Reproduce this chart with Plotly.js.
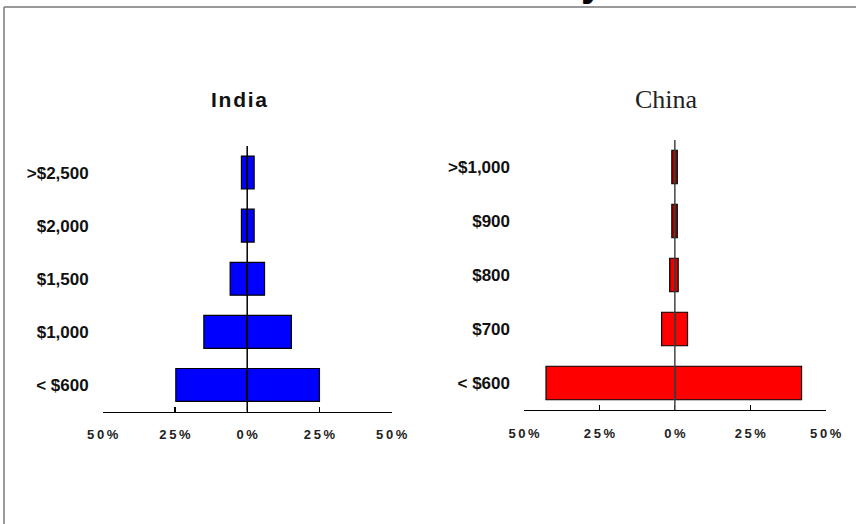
<!DOCTYPE html>
<html>
<head>
<meta charset="utf-8">
<script src="https://cdn.plot.ly/plotly-3.0.1.min.js"></script>
<style>html,body{margin:0;padding:0;background:#fff;}#chart{width:856px;height:524px;}</style>
</head>
<body>
<div id="chart"></div>
<script>
// ---- data ----
var indiaCats  = ['< $600', '$1,000', '$1,500', '$2,000', '>$2,500'];
var indiaLeft  = [24.7, 15.0, 5.9, 2.0, 2.0];
var indiaRight = [25.0, 15.3, 6.0, 2.4, 2.4];

var chinaCats  = ['< $600', '$700', '$800', '$900', '>$1,000'];
var chinaLeft  = [42.7, 4.4, 1.7, 1.0, 1.0];
var chinaRight = [42.0, 4.2, 1.1, 0.8, 0.8];

var xTickVals  = [-50, -25, 0, 25, 50];
var xTickText  = ['5\u20090\u2009%', '2\u20095\u2009%', '0\u2009%', '2\u20095\u2009%', '5\u20090\u2009%'];

var W = 856, H = 524;
function px(x){ return x / W; }
function py(y){ return 1 - y / H; }

var neg = function(a){ return a.map(function(v){ return -v; }); };

var chinaColors = ['#ff0000', '#ff0000', '#ee0000', '#b00000', '#b00000'];

var traces = [
  {type:'bar', orientation:'h', y:indiaCats, x:neg(indiaLeft), xaxis:'x', yaxis:'y',
   width:0.62, marker:{color:'#0000ff', line:{color:'#000', width:1.2}}, hoverinfo:'skip'},
  {type:'bar', orientation:'h', y:indiaCats, x:indiaRight, xaxis:'x', yaxis:'y',
   width:0.62, marker:{color:'#0000ff', line:{color:'#000', width:1.2}}, hoverinfo:'skip'},
  {type:'bar', orientation:'h', y:chinaCats, x:neg(chinaLeft), xaxis:'x2', yaxis:'y2',
   width:0.62, marker:{color:chinaColors, line:{color:'#000', width:1.2}}, hoverinfo:'skip'},
  {type:'bar', orientation:'h', y:chinaCats, x:chinaRight, xaxis:'x2', yaxis:'y2',
   width:0.62, marker:{color:chinaColors, line:{color:'#000', width:1.2}}, hoverinfo:'skip'}
];

var tickFontX = {family:'Liberation Sans, Arial, sans-serif', size:13, color:'#222', weight:'bold'};
var tickFontY = {family:'Liberation Sans, Arial, sans-serif', size:17, color:'#111', weight:'bold'};

function xAxis(d0, d1, anchor){
  return {domain:[px(d0), px(d1)], anchor:anchor, range:[-50, 50], fixedrange:true,
    tickmode:'array', tickvals:xTickVals, ticktext:xTickText,
    ticks:'inside', ticklen:5, tickwidth:1.3, tickcolor:'#000',
    showline:true, linecolor:'#000', linewidth:1.3,
    showgrid:false, zeroline:false, tickfont:tickFontX, ticklabelstandoff:11};
}
function yAxis(top, bottom, anchor){
  return {domain:[py(bottom), py(top)], anchor:anchor, type:'category', range:[-0.5, 4.5],
    fixedrange:true, showline:false, showgrid:false, zeroline:false, ticks:'',
    tickfont:tickFontY, ticklabelstandoff:13};
}

var layout = {
  width:W, height:H, margin:{l:0, r:0, t:0, b:0},
  paper_bgcolor:'#fff', plot_bgcolor:'#fff',
  showlegend:false, barmode:'relative',
  xaxis:xAxis(102.7, 391.7, 'y'),
  yaxis:yAxis(146, 411.5, 'x'),
  xaxis2:xAxis(524, 825.7, 'y2'),
  yaxis2:yAxis(140, 410, 'x2'),
  shapes:[
    {type:'line', xref:'x', yref:'y domain', x0:0, x1:0, y0:0, y1:1, layer:'above',
     line:{color:'#000', width:1.5}},
    {type:'line', xref:'x2', yref:'y2 domain', x0:0, x1:0, y0:0, y1:1, layer:'above',
     line:{color:'#444', width:1.5}},
    {type:'line', xref:'paper', yref:'paper', x0:px(4), x1:px(4), y0:0, y1:py(7),
     line:{color:'#777', width:1.5}},
    {type:'line', xref:'paper', yref:'paper', x0:px(4), x1:1, y0:py(7), y1:py(7),
     line:{color:'#777', width:1.5}}
  ],
  annotations:[
    {text:'I\u200an\u200ad\u200ai\u200aa', xref:'paper', yref:'paper', x:px(239), y:py(100),
     xanchor:'center', yanchor:'middle', showarrow:false,
     font:{family:'Liberation Sans, Arial, sans-serif', size:21, color:'#111', weight:'bold'}},
    {text:'China', xref:'paper', yref:'paper', x:px(666), y:py(99),
     xanchor:'center', yanchor:'middle', showarrow:false,
     font:{family:'Liberation Serif, Times New Roman, serif', size:26, color:'#222'}},
    {text:'y', xref:'paper', yref:'paper', x:px(592), y:py(6),
     xanchor:'center', yanchor:'bottom', showarrow:false,
     font:{family:'Liberation Sans, Arial, sans-serif', size:40, color:'#000', weight:'bold'}}
  ]
};

Plotly.newPlot('chart', traces, layout, {staticPlot:true, displayModeBar:false});
</script>
</body>
</html>
